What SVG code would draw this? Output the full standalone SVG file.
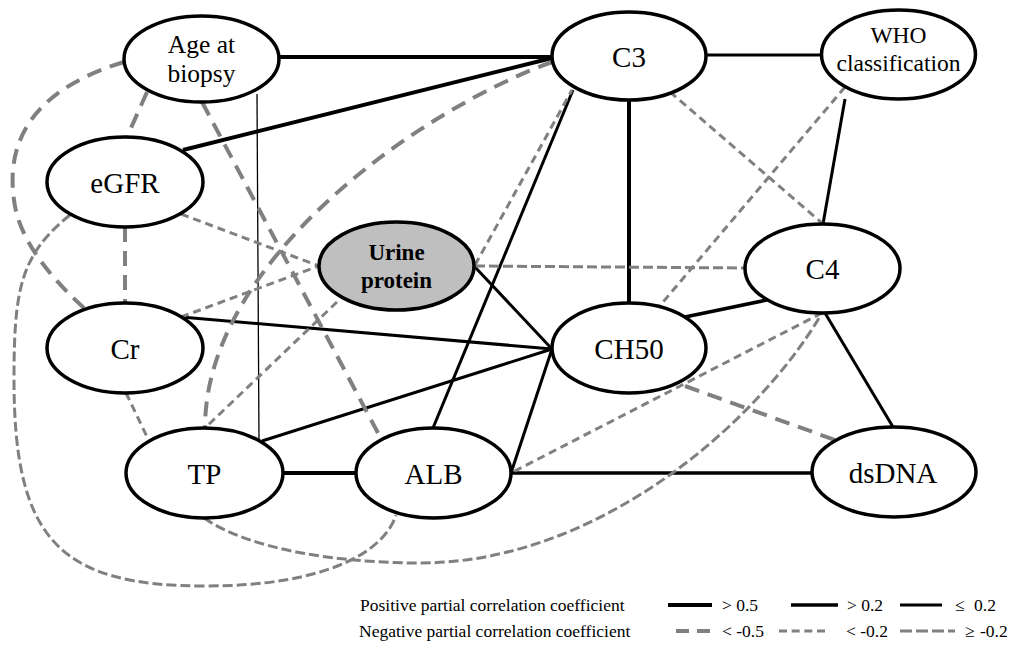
<svg xmlns="http://www.w3.org/2000/svg" width="1017" height="650" viewBox="0 0 1017 650">
<style>
.n{fill:#fff;stroke:#000;stroke-width:3.5}
.u{fill:#bfbfbf;stroke:#000;stroke-width:3.5}
.t{font-family:"Liberation Serif","Times New Roman",serif;font-size:29px;text-anchor:middle;fill:#000}
.t2{font-family:"Liberation Serif","Times New Roman",serif;font-size:25.5px;text-anchor:middle;fill:#000}
.tw{font-family:"Liberation Serif","Times New Roman",serif;font-size:23.5px;text-anchor:middle;fill:#000}
.tb{font-family:"Liberation Serif","Times New Roman",serif;font-size:23px;font-weight:bold;text-anchor:middle;fill:#000}
.lg{font-family:"Liberation Serif","Times New Roman",serif;font-size:17.5px;fill:#000}
.s1{stroke:#000;stroke-width:4;fill:none}
.s2{stroke:#000;stroke-width:3.5;fill:none}
.s3{stroke:#000;stroke-width:3;fill:none}
.s0{stroke:#000;stroke-width:1.3;fill:none}
.dA{stroke:#808080;stroke-width:4;stroke-dasharray:15 9;fill:none}
.dB{stroke:#808080;stroke-width:3;stroke-dasharray:8 5;fill:none}
.dC{stroke:#808080;stroke-width:3;stroke-dasharray:10 4;fill:none}
</style>
<g id="connectors">
<line class="s1" x1="279" y1="57" x2="552" y2="57"/>
<line class="s1" x1="183" y1="150" x2="552" y2="58"/>
<line class="s0" x1="257" y1="94" x2="259" y2="442"/>
<line class="s3" x1="706" y1="55" x2="822" y2="55"/>
<line class="s1" x1="629" y1="100" x2="629" y2="303"/>
<line class="s3" x1="573" y1="90" x2="433" y2="428"/>
<line class="s3" x1="845" y1="99" x2="823" y2="224"/>
<line class="s2" x1="685" y1="317" x2="767" y2="300"/>
<line class="s3" x1="825" y1="313" x2="893" y2="427"/>
<line class="s2" x1="511" y1="473" x2="812" y2="473"/>
<line class="s3" x1="511" y1="473" x2="552" y2="349"/>
<line class="s3" x1="262" y1="441" x2="552" y2="349"/>
<line class="s3" x1="181" y1="317" x2="552" y2="349"/>
<line class="s3" x1="474" y1="266" x2="552" y2="349"/>
<line class="s1" x1="283" y1="473" x2="356" y2="473"/>
<path class="dA" d="M124,62 Q0,100 14,200 Q20,250 84,308"/>
<line class="dA" x1="147" y1="92" x2="127" y2="137"/>
<line class="dA" x1="202" y1="102" x2="378" y2="433"/>
<line class="dA" x1="125" y1="227" x2="125" y2="303"/>
<path class="dA" d="M552,62 C420,110 205,260 205,428"/>
<line class="dA" x1="685" y1="386" x2="835" y2="440"/>
<line class="dB" x1="181" y1="214" x2="319" y2="266"/>
<line class="dB" x1="181" y1="317" x2="319" y2="266"/>
<line class="dB" x1="475" y1="265" x2="572" y2="90"/>
<line class="dB" x1="337" y1="302" x2="205" y2="428"/>
<line class="dB" x1="126" y1="393" x2="149" y2="441"/>
<line class="dB" x1="670" y1="92" x2="822" y2="223"/>
<line class="dB" x1="845" y1="87" x2="658" y2="308"/>
<line class="dB" x1="822" y1="313" x2="511" y2="473"/>
<line class="dC" x1="475" y1="266" x2="745" y2="268"/>
<path class="dC" d="M70,215 C20,255 14,290 14,380 C14,540 60,586 205,586 C330,586 385,550 396,515"/>
<path class="dC" d="M204,518 C250,550 340,563 420,563 C600,563 760,420 822,313"/>
</g>
<g id="node-age"><ellipse class="n" cx="201.5" cy="59" rx="77.5" ry="43"/><text class="t2" x="201.5" y="53">Age at</text><text class="t2" x="201.5" y="82">biopsy</text></g>
<g id="node-c3"><ellipse class="n" cx="629" cy="56" rx="77" ry="44"/><text class="t" x="629" y="66.5">C3</text></g>
<g id="node-who"><ellipse class="n" cx="898.5" cy="54.5" rx="77" ry="44.5"/><text class="tw" x="898.5" y="43">WHO</text><text class="tw" x="898.5" y="71">classification</text></g>
<g id="node-egfr"><ellipse class="n" cx="125" cy="182" rx="78" ry="45"/><text class="t" x="125" y="192.5">eGFR</text></g>
<g id="node-urine"><ellipse class="u" cx="396.5" cy="266" rx="77.5" ry="44"/><text class="tb" x="396.5" y="260">Urine</text><text class="tb" x="396.5" y="288">protein</text></g>
<g id="node-c4"><ellipse class="n" cx="822.5" cy="268.5" rx="77.5" ry="44.5"/><text class="t" x="822.5" y="279">C4</text></g>
<g id="node-cr"><ellipse class="n" cx="125" cy="348" rx="78" ry="45"/><text class="t" x="125" y="358.5">Cr</text></g>
<g id="node-ch50"><ellipse class="n" cx="629" cy="348" rx="77" ry="45"/><text class="t" x="629" y="358.5">CH50</text></g>
<g id="node-tp"><ellipse class="n" cx="204.5" cy="473" rx="78.5" ry="45"/><text class="t" x="204.5" y="483.5">TP</text></g>
<g id="node-alb"><ellipse class="n" cx="433.5" cy="473" rx="77.5" ry="45"/><text class="t" x="433.5" y="483.5">ALB</text></g>
<g id="node-dsdna"><ellipse class="n" cx="894" cy="472" rx="82" ry="45"/><text class="t" x="893" y="482.5">dsDNA</text></g>
<g id="legend">
<text class="lg" x="360" y="611">Positive partial correlation coefficient</text>
<text class="lg" x="359" y="637">Negative partial correlation coefficient</text>
<line class="s1" x1="668" y1="605" x2="712" y2="605"/>
<text class="lg" x="722" y="611">&gt; 0.5</text>
<line class="s2" x1="791" y1="605" x2="838" y2="605"/>
<text class="lg" x="847" y="611">&gt; 0.2</text>
<line class="s3" x1="900" y1="605" x2="942" y2="605"/>
<text class="lg" y="611"><tspan x="955">≤</tspan><tspan x="974">0.2</tspan></text>
<line class="dA" x1="676" y1="631" x2="710" y2="631" style="stroke-dasharray:13 8"/>
<text class="lg" x="722" y="637">&lt; -0.5</text>
<line class="dB" x1="779" y1="631" x2="825" y2="631" style="stroke-dasharray:8 4.67"/>
<text class="lg" x="846" y="637">&lt; -0.2</text>
<line class="dC" x1="900" y1="631" x2="955" y2="631" style="stroke-dasharray:12 4"/>
<text class="lg" y="637"><tspan x="965">≥</tspan><tspan x="980">-0.2</tspan></text>
</g>
</svg>
